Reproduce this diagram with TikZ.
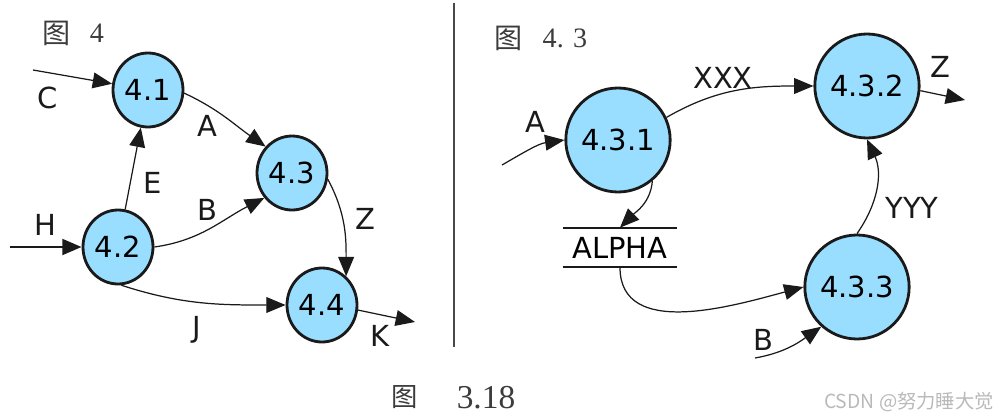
\documentclass[tikz,border=0pt]{standalone}
\usepackage{fontspec}
\setmainfont{Liberation Serif}
\setsansfont{DejaVu Sans}
\newfontfamily\cjk{Noto Sans CJK SC}
\usetikzlibrary{arrows.meta, shapes.geometric}
\definecolor{ink}{HTML}{1A1A1A}
\definecolor{bubble}{HTML}{99DDFF}

\begin{document}
\begin{tikzpicture}[
  proc/.style={ellipse, draw=ink, line width=1.6pt, fill=bubble, inner sep=0pt, minimum width=1.40cm, minimum height=1.48cm, font=\sffamily\fontsize{16.5}{18}\selectfont},
  bigproc/.style={proc, minimum width=1.80cm, minimum height=2.08cm},
  store/.style={inner sep=0pt, minimum width=2.28cm, minimum height=0.78cm, font=\sffamily\fontsize{16.5}{18}\selectfont},
  lbl/.style={font=\sffamily\fontsize{16.5}{18}\selectfont, text=ink, inner sep=0pt},
  title/.style={font=\fontsize{16}{18}\selectfont, text=ink!85, inner sep=0pt},
  flow/.style={-{Triangle[length=11pt, width=9pt]}, line width=0.7pt, ink}
]
  \useasboundingbox (0,0) rectangle (20,-8.4);

  % left: figure 4
  \node[title] (t4fig) at (1.14,-0.66) {\cjk 图};
  \node[title] (t4num) at (1.94,-0.66) {4};

  \node[proc] (p41) at (2.96,-1.80) {4.1};
  \node[proc] (p43) at (5.84,-3.46) {4.3};
  \node[proc] (p42) at (2.36,-4.94) {4.2};
  \node[proc] (p44) at (6.44,-6.10) {4.4};

  \coordinate (cC) at (0.66,-1.40);
  \coordinate (hH) at (0.20,-4.94);
  \coordinate (kK) at (8.30,-6.44);

  \draw[flow] (cC) -- (p41);
  \draw[flow] (p41.-5) to[out=-25, in=145] (p43.135);
  \draw[flow] (p42) -- (p41);
  \draw[flow, line width=1.5pt] (hH) -- (p42);
  \draw[flow] (p42.0) to[out=8, in=207] (p43.222);
  \draw[flow] (p43.-10) to[out=-62, in=90] (p44.50);
  \draw[flow] (p42.-85) to[out=-18, in=180] (p44.west);
  \draw[flow] (p44.-8) -- (kK);

  \node[lbl] (lC) at (0.96,-1.96) {C};
  \node[lbl] (lH) at (0.90,-4.50) {H};
  \node[lbl] (lA) at (4.14,-2.52) {A};
  \node[lbl] (lE) at (3.06,-3.66) {E};
  \node[lbl] (lB) at (4.14,-4.20) {B};
  \node[lbl] (lZ) at (7.30,-4.38) {Z};
  \node[lbl] (lJ) at (3.94,-6.60) {J};
  \node[lbl] (lK) at (7.60,-6.72) {K};

  % divider
  \draw[ink!80, line width=1.1pt] (9.08,-0.06) -- (9.08,-6.94);

  % right: figure 4.3
  \node[title] (t43fig) at (10.18,-0.76) {\cjk 图};
  \node[title] (t43num) at (11.30,-0.76) {4. 3};

  \node[bigproc] (p431) at (12.36,-2.80) {4.3.1};
  \node[bigproc] (p432) at (17.34,-1.72) {4.3.2};
  \node[bigproc] (p433) at (17.14,-5.74) {4.3.3};
  \node[store] (alpha) at (12.40,-4.95) {ALPHA};
  \draw[ink, line width=1.3pt] (alpha.north west) -- (alpha.north east);
  \draw[ink, line width=1pt] (alpha.south west) -- (alpha.south east);

  \coordinate (aIn) at (10.04,-3.30);
  \coordinate (zOut) at (19.30,-2.00);
  \coordinate (bIn) at (15.10,-7.16);

  \draw[flow] (aIn) to[out=30, in=188] (p431.180);
  \draw[flow] (p431.25) to[out=30, in=180] (p432.west);
  \draw[flow] (p432.-5) -- (zOut);
  \draw[flow] (p431.-50) to[out=-95, in=45] (alpha.north);
  \draw[flow] (alpha.south) to[out=-90, in=195] (p433.west);
  \draw[flow] (bIn) to[out=10, in=215] (p433.228);
  \draw[flow] (p433.north) to[out=55, in=-65] (p432.south);

  \node[lbl] (rA) at (10.70,-2.44) {A};
  \node[lbl] (rXXX) at (14.46,-1.56) {XXX};
  \node[lbl] (rZ) at (18.80,-1.34) {Z};
  \node[lbl] (rYYY) at (18.24,-4.16) {YYY};
  \node[lbl] (rB) at (15.26,-6.80) {B};

  % caption and mark
  \node[title, font=\fontsize{15}{17}\selectfont] (capfig) at (8.10,-7.94) {\cjk 图};
  \node[title, font=\fontsize{19}{21}\selectfont] (capnum) at (9.72,-7.96) {3.18};
  \node[font=\cjk\fontsize{11}{13}\selectfont, text=gray!55, inner sep=0pt] (mark) at (18.18,-8.04) {CSDN @努力睡大觉};
\end{tikzpicture}
\end{document}
